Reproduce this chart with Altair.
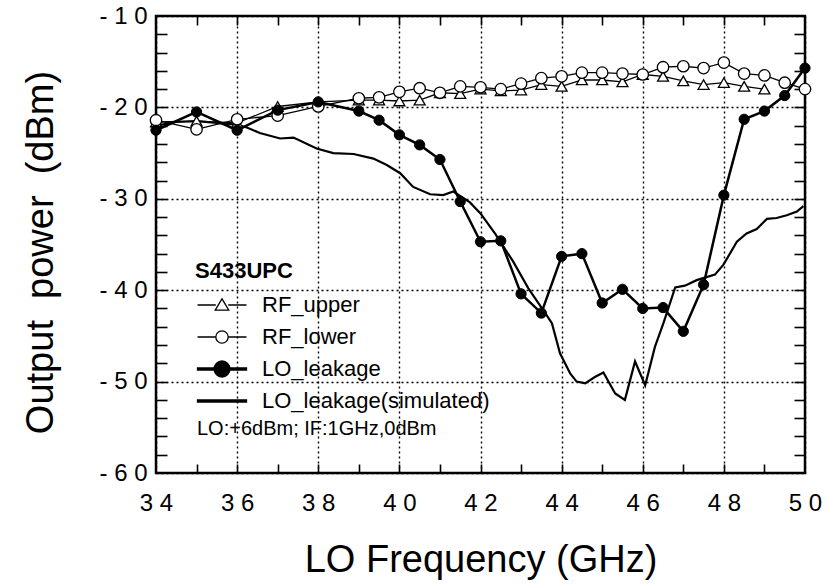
import altair as alt
import pandas as pd

# ---------------- data ----------------
freq = [34, 35, 36, 37, 38, 39, 39.5, 40, 40.5, 41, 41.5, 42, 42.5, 43, 43.5,
        44, 44.5, 45, 45.5, 46, 46.5, 47, 47.5, 48, 48.5, 49, 49.5, 50]

rf_upper = [-21.6, -21.5, -21.7, -19.9, -19.4, -19.2, -19.2, -19.3, -19.2, -18.4,
            -18.5, -18.0, -18.2, -18.1, -17.5, -17.7, -17.0, -17.0, -17.2, -16.4,
            -16.6, -17.1, -17.5, -17.3, -17.7, -18.0]          # 34 .. 49

rf_lower = [-21.4, -22.4, -21.3, -20.9, -19.9, -19.0, -18.9, -18.3, -17.9, -18.4,
            -17.7, -17.8, -18.0, -17.4, -16.8, -16.6, -16.2, -16.2, -16.3, -16.4,
            -15.6, -15.5, -15.7, -15.1, -16.3, -16.5, -17.3, -18.0]

lo_leak = [-22.5, -20.5, -22.5, -20.3, -19.4, -20.4, -21.4, -23.0, -24.1, -25.7,
           -30.3, -34.7, -34.6, -40.4, -42.5, -36.3, -36.0, -41.4, -39.9, -42.0,
           -41.9, -44.5, -39.4, -29.6, -21.3, -20.4, -18.7, -15.7]

sim_freq = [34.0, 34.5, 35.0, 35.5, 36.0, 36.24, 36.56, 37.06, 37.39, 37.96, 38.37,
            38.87, 39.36, 39.69, 40.02, 40.34, 40.76, 41.08, 41.33, 41.74, 42.0,
            42.36, 42.81, 43.18, 43.55, 43.76, 43.96, 44.21, 44.37, 44.58, 44.82,
            45.03, 45.32, 45.56, 45.81, 46.06, 46.30, 46.51, 46.80, 47.04, 47.33,
            47.78, 47.99, 48.32, 48.56, 48.81, 49.06, 49.30, 49.55, 49.80, 49.96]
sim_power = [-22.0, -21.6, -21.5, -21.7, -21.9, -22.2, -22.8, -23.4, -23.3, -24.5, -25.0,
             -25.1, -25.6, -26.3, -27.2, -28.7, -29.5, -29.6, -29.2, -30.4, -31.6,
             -33.8, -36.9, -39.8, -42.2, -43.6, -46.9, -49.1, -50.0, -50.2, -49.5,
             -49.0, -51.3, -52.0, -47.8, -50.4, -46.2, -43.6, -39.7, -39.5, -38.9,
             -38.3, -37.2, -34.7, -33.8, -33.3, -32.2, -32.1, -31.8, -31.4, -30.8]

series_names = ["RF_upper", "RF_lower", "LO_leakage", "LO_leakage(simulated)"]
legend_title = "S433UPC"
note_text = "LO:+6dBm; IF:1GHz,0dBm"

x_major = [34, 36, 38, 40, 42, 44, 46, 48, 50]
x_minor = [35, 36, 37, 38, 39, 40, 41, 42, 43, 44, 45, 46, 47, 48, 49]
y_major = [-60, -50, -40, -30, -20, -10]
y_minor = [-58, -56, -54, -52, -50, -48, -46, -44, -42, -40, -38, -36, -34, -32,
           -30, -28, -26, -24, -22, -20, -18, -16, -14, -12]

# ---------------- tables ----------------
rows = []
for f, v in zip(freq, rf_upper):
    rows.append({"freq": f, "power": v, "series": "RF_upper"})
for f, v in zip(freq, rf_lower):
    rows.append({"freq": f, "power": v, "series": "RF_lower"})
for f, v in zip(freq, lo_leak):
    rows.append({"freq": f, "power": v, "series": "LO_leakage"})
meas = pd.DataFrame(rows)
sim = pd.DataFrame({"freq": sim_freq, "power": sim_power})

W, H = 649, 457
FONT = "Liberation Sans"
xs = alt.Scale(domain=[34, 50], nice=False, zero=False)
ys = alt.Scale(domain=[-60, -10], nice=False, zero=False)
spaced = "join(split(toString(datum.value), ''), ' ')"

x_main = alt.Axis(values=x_major, labelExpr=spaced, ticks=False, domain=False,
                  grid=True, gridDash=[2, 3], gridColor="black", gridWidth=1.4,
                  gridOpacity=1, labelFont=FONT, labelFontSize=24, labelColor="black",
                  labelPadding=18, labelFlush=False, labelOverlap=False,
                  title="LO Frequency (GHz)", titleFont=FONT,
                  titleFontSize=38, titleFontWeight="normal", titleColor="black",
                  titleX=W / 2, titleY=98, titleBaseline="alphabetic")
y_main = alt.Axis(values=y_major, labelExpr=spaced, ticks=False, domain=False,
                  grid=True, gridDash=[2, 3], gridColor="black", gridWidth=1.4,
                  gridOpacity=1, labelFont=FONT, labelFontSize=24, labelColor="black",
                  labelPadding=9, labelFlush=False, labelOverlap=False,
                  title="Output\u00a0 power\u00a0 (dBm)", titleFont=FONT,
                  titleFontSize=38, titleFontWeight="normal", titleColor="black",
                  titleX=-104, titleY=236, titleAngle=270, titleAlign="center",
                  titleBaseline="alphabetic")

def tick_axis(orient, offset, values, size):
    return alt.Axis(orient=orient, offset=offset, values=values, labels=False,
                    domain=False, grid=False, ticks=True, tickSize=size,
                    tickWidth=1.6, tickColor="black", title=None)

# simulated line (carries labelled axes + grid)
sim_layer = alt.Chart(sim).mark_line(color="black", strokeWidth=2.2).encode(
    x=alt.X("freq:Q", scale=xs, axis=x_main),
    y=alt.Y("power:Q", scale=ys, axis=y_main),
)

# LO leakage line (carries inner ticks on top and left edges)
lo_line = alt.Chart(meas).transform_filter("datum.series == 'LO_leakage'").mark_line(
    color="black", strokeWidth=2.5).encode(
    x=alt.X("freq:Q", scale=xs, axis=tick_axis("bottom", -H, x_minor, 9)),
    y=alt.Y("power:Q", scale=ys, axis=tick_axis("right", -W, y_minor, 11)),
)

# RF upper line (carries inner ticks on bottom and right edges)
up_line = alt.Chart(meas).transform_filter("datum.series == 'RF_upper'").mark_line(
    color="black", strokeWidth=1.3).encode(
    x=alt.X("freq:Q", scale=xs, axis=tick_axis("top", -H, x_minor, 9)),
    y=alt.Y("power:Q", scale=ys, axis=tick_axis("left", -W, y_minor, 11)),
)

low_line = alt.Chart(meas).transform_filter("datum.series == 'RF_lower'").mark_line(
    color="black", strokeWidth=1.3).encode(
    x=alt.X("freq:Q", scale=xs, axis=None),
    y=alt.Y("power:Q", scale=ys, axis=None),
)

up_pts = alt.Chart(meas).transform_filter("datum.series == 'RF_upper'").mark_point(
    shape="triangle-up", size=120, filled=True, fill="white", stroke="black",
    strokeWidth=1.3, opacity=1).encode(
    x=alt.X("freq:Q", scale=xs, axis=None),
    y=alt.Y("power:Q", scale=ys, axis=None),
)
low_pts = alt.Chart(meas).transform_filter("datum.series == 'RF_lower'").mark_point(
    shape="circle", size=130, filled=True, fill="white", stroke="black",
    strokeWidth=1.3, opacity=1).encode(
    x=alt.X("freq:Q", scale=xs, axis=None),
    y=alt.Y("power:Q", scale=ys, axis=None),
)
lo_pts = alt.Chart(meas).transform_filter("datum.series == 'LO_leakage'").mark_point(
    shape="circle", size=105, filled=True, fill="black", stroke="black",
    strokeWidth=1, opacity=1).encode(
    x=alt.X("freq:Q", scale=xs, axis=None),
    y=alt.Y("power:Q", scale=ys, axis=None),
)

# legend: built by Vega-Lite from shape/fill/stroke scales of an empty layer
legend_paths = [
    "M-2.45,0H-0.62M0.62,0H2.45M0,-0.62L0.68,0.52L-0.68,0.52Z",
    "M-2.45,0H-0.62M0.62,0H2.45M0.62,0A0.62,0.62,0,1,1,-0.62,0A0.62,0.62,0,1,1,0.62,0Z",
    "M-2.45,-0.1H2.45V0.1H-2.45ZM0.8,0A0.8,0.8,0,1,1,-0.8,0A0.8,0.8,0,1,1,0.8,0Z",
    "M-2.45,-0.1H2.45V0.1H-2.45Z",
]
legend_fills = ["white", "white", "black", "black"]
legend_strokes = ["black", "black", "black", "black"]
leg = alt.Legend(orient="none", legendX=39, legendY=245, title=legend_title,
                 titleFont=FONT, titleFontSize=22, titleFontWeight="bold",
                 titleColor="black", titlePadding=11, labelFont=FONT, labelFontSize=22,
                 labelColor="black", labelOffset=29, labelLimit=400, symbolSize=400,
                 symbolOffset=16, symbolStrokeWidth=1.3, symbolOpacity=1,
                 rowPadding=10, padding=0)
legend_layer = alt.Chart(meas).transform_filter("false").mark_point(
    filled=True, opacity=1).encode(
    x=alt.X("freq:Q", scale=xs, axis=None),
    y=alt.Y("power:Q", scale=ys, axis=None),
    shape=alt.Shape("series:N", scale=alt.Scale(domain=series_names, range=legend_paths),
                    legend=leg, title=legend_title),
    fill=alt.Fill("series:N", scale=alt.Scale(domain=series_names, range=legend_fills),
                  legend=leg, title=legend_title),
    stroke=alt.Stroke("series:N", scale=alt.Scale(domain=series_names, range=legend_strokes),
                      legend=leg, title=legend_title),
)

note_layer = alt.Chart(pd.DataFrame({"note": [note_text]})).mark_text(
    align="left", baseline="middle", font=FONT, fontSize=20, color="black").encode(
    x=alt.value(41), y=alt.value(413), text="note:N")

chart = alt.layer(
    sim_layer, lo_line, up_line, low_line, up_pts, low_pts, lo_pts, legend_layer, note_layer
).resolve_axis(x="independent", y="independent").properties(
    width=W, height=H,
    autosize=alt.AutoSizeParams(type="none"),
    padding={"left": 156, "top": 16, "right": 24, "bottom": 112},
    background="white",
).configure_view(stroke="black", strokeWidth=2.5)

chart.save("out.html", embed_options={"renderer": "svg", "actions": False})
